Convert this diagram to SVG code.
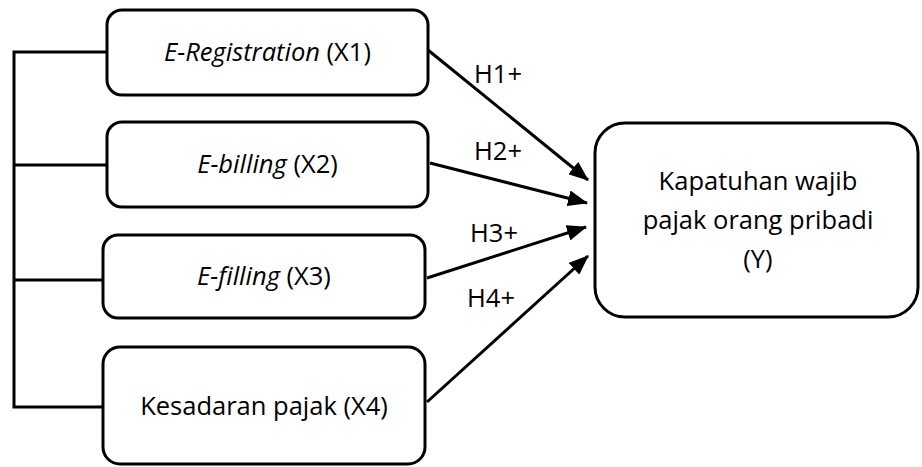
<svg xmlns="http://www.w3.org/2000/svg" width="922" height="467" viewBox="0 0 922 467">
<style>
.box{fill:#fff;stroke:#000;stroke-width:3}
.t{font-family:"Open Sans","Liberation Sans",sans-serif;font-size:25.5px;fill:#000;text-anchor:middle}
.i{font-style:italic}
.c{fill:none;stroke:#000;stroke-width:3}
</style>
<defs>
<marker id="ah" markerUnits="userSpaceOnUse" markerWidth="20" markerHeight="16" refX="19" refY="8" orient="auto">
<path d="M0,0 L20,8 L0,16 Z" fill="#000"/>
</marker>
</defs>
<g id="connectors">
<path class="c" d="M107,52 H14 V407 H103 M14,165 H107 M14,280 H103"/>
<line class="c" x1="428" y1="50" x2="588" y2="180" marker-end="url(#ah)"/>
<line class="c" x1="430" y1="163" x2="587" y2="203" marker-end="url(#ah)"/>
<line class="c" x1="427" y1="278" x2="586" y2="227" marker-end="url(#ah)"/>
<line class="c" x1="427" y1="402" x2="588" y2="256" marker-end="url(#ah)"/>
<text class="t" x="498" y="83">H1+</text>
<text class="t" x="498" y="160">H2+</text>
<text class="t" x="494" y="242">H3+</text>
<text class="t" x="491" y="307">H4+</text>
</g>
<g id="x1">
<rect class="box" x="107" y="10" width="321" height="85" rx="15"/>
<text class="t" x="267.5" y="61"><tspan class="i">E-Registration</tspan> (X1)</text>
</g>
<g id="x2">
<rect class="box" x="107" y="122" width="321" height="85" rx="15"/>
<text class="t" x="267.5" y="173"><tspan class="i">E-billing</tspan> (X2)</text>
</g>
<g id="x3">
<rect class="box" x="103" y="235" width="322" height="83" rx="15"/>
<text class="t" x="264" y="285"><tspan class="i">E-filling</tspan> (X3)</text>
</g>
<g id="x4">
<rect class="box" x="103" y="347" width="322" height="117" rx="17"/>
<text class="t" x="264" y="415">Kesadaran pajak (X4)</text>
</g>
<g id="y">
<rect class="box" x="595" y="123" width="323" height="194" rx="30"/>
<text class="t" x="758" y="190">Kapatuhan wajib</text>
<text class="t" x="758" y="229">pajak orang pribadi</text>
<text class="t" x="758" y="268">(Y)</text>
</g>
</svg>
